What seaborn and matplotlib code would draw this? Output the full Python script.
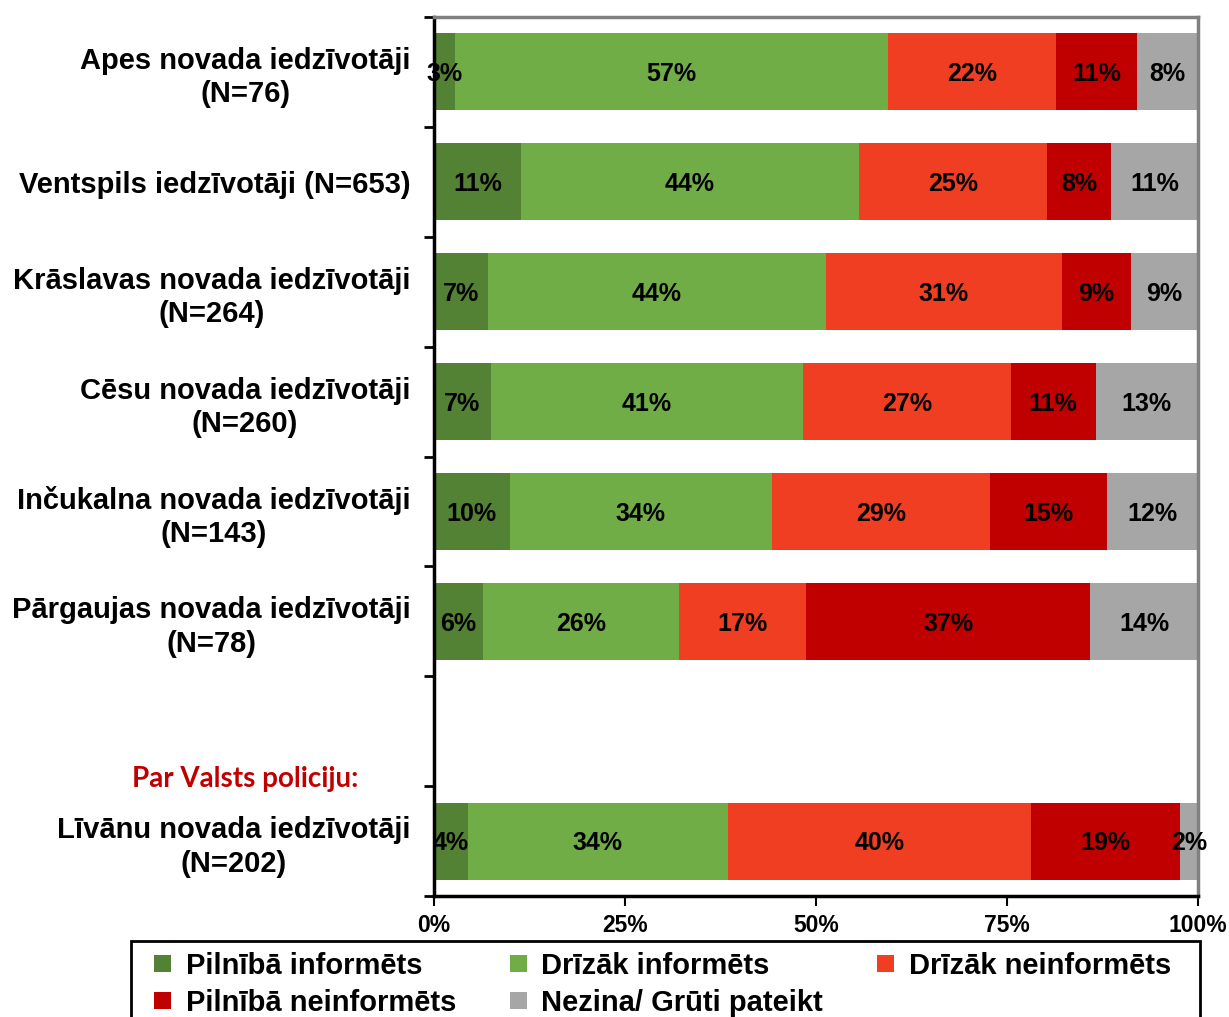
import numpy as np
import pandas as pd
import seaborn as sns
import matplotlib.pyplot as plt
from matplotlib.patches import Patch, Rectangle

LABEL_SIZE = 21
VALUE_SIZE = 18

# rows of the chart, top to bottom (" " is the empty gap row)
groups = [
    "Apes novada iedzīvotāji\n(N=76)",
    "Ventspils iedzīvotāji (N=653)",
    "Krāslavas novada iedzīvotāji\n(N=264)",
    "Cēsu novada iedzīvotāji\n(N=260)",
    "Inčukalna novada iedzīvotāji\n(N=143)",
    "Pārgaujas novada iedzīvotāji\n(N=78)",
    " ",
    "Līvānu novada iedzīvotāji\n(N=202)",
]
data_groups = [g for g in groups if g.strip()]

answers = [
    "Pilnībā informēts",
    "Drīzāk informēts",
    "Drīzāk neinformēts",
    "Pilnībā neinformēts",
    "Nezina/ Grūti pateikt",
]
fully_informed = [2.8, 11.4, 7.1, 7.4, 9.9, 6.4, 4.4]
rather_informed = [56.6, 44.2, 44.2, 40.9, 34.3, 25.7, 34.1]
rather_uninformed = [22.0, 24.6, 30.9, 27.2, 28.6, 16.6, 39.7]
fully_uninformed = [10.6, 8.4, 9.0, 11.1, 15.3, 37.2, 19.4]
dont_know = [8.0, 11.4, 8.8, 13.4, 11.9, 14.1, 2.4]

colors = ["#548235", "#70AD47", "#F03E23", "#C00000", "#A6A6A6"]
x_ticks = [0, 25, 50, 75, 100]
x_labels = ["0%", "25%", "50%", "75%", "100%"]

df = pd.DataFrame({
    "group": data_groups,
    answers[0]: fully_informed,
    answers[1]: rather_informed,
    answers[2]: rather_uninformed,
    answers[3]: fully_uninformed,
    answers[4]: dont_know,
})
cum = df[answers].cumsum(axis=1)
cum["group"] = df["group"]

sns.set_theme(style="white")
plt.rcParams["font.family"] = ["Liberation Sans", "DejaVu Sans"]
plt.rcParams["font.weight"] = "bold"
for key in ["text.color", "axes.labelcolor", "xtick.color", "ytick.color"]:
    plt.rcParams[key] = "black"

fig = plt.figure(figsize=(12.29, 10.17), dpi=100)
ax = fig.add_axes([434 / 1229, 121 / 1017, 764 / 1229, 879 / 1017])

# stacked bars: draw cumulative totals from the widest down
for i in reversed(range(len(answers))):
    sns.barplot(
        data=cum, x=answers[i], y="group", order=groups, orient="h",
        color=colors[i], saturation=1, width=0.7, edgecolor="none",
        linewidth=0, ax=ax,
    )

# value labels
for _, row in df.iterrows():
    y = groups.index(row["group"])
    start = 0
    for a in answers:
        v = row[a]
        ax.text(start + v / 2, y + 0.02, f"{v:.0f}%", ha="center",
                va="center", fontsize=VALUE_SIZE, fontweight="bold",
                color="black")
        start += v

ax.set_xlim(0, 100)
ax.set_ylim(len(groups) - 0.5, -0.5)
ax.set_xticks(x_ticks)
ax.set_xticklabels(x_labels, fontsize=16.5, fontweight="bold")
ax.set_yticks(range(len(groups)))
ax.set_yticklabels([g.strip() for g in groups], fontsize=LABEL_SIZE,
                   fontweight="bold", multialignment="center",
                   linespacing=1.25)
ax.set_yticks(np.arange(-0.5, len(groups), 1), minor=True)
ax.set_xlabel("")
ax.set_ylabel("")
ax.tick_params(axis="y", which="major", length=0, pad=17)
ax.tick_params(axis="y", which="minor", length=7, width=2, direction="out",
               left=True, color="black")
ax.tick_params(axis="x", which="major", length=7, width=1.5, direction="out",
               bottom=True, pad=6, color="black")

for side in ["left", "bottom"]:
    ax.spines[side].set_color("black")
    ax.spines[side].set_linewidth(2.5)
for side in ["top", "right"]:
    ax.spines[side].set_visible(True)
    ax.spines[side].set_color("#808080")
    ax.spines[side].set_linewidth(2.5)

fig.text(245 / 1229, 1 - 779 / 1017, "Par Valsts policiju:", ha="center",
         va="center", fontsize=20, fontweight="bold", color="#C00000",
         family=["Lato", "DejaVu Sans"])

# legend box (runs off the bottom edge like the original)
fig.add_artist(Rectangle((131 / 1229, -0.02), 1069 / 1229,
                         (1017 - 941) / 1017 + 0.02, fill=False,
                         edgecolor="black", linewidth=2,
                         transform=fig.transFigure))

# legend, filled row by row
handles = [Patch(facecolor=c, edgecolor="none") for c in colors]
order = [0, 3, 1, 4, 2]
fig.legend(
    [handles[i] for i in order], [answers[i] for i in order],
    ncol=3, loc="upper left",
    bbox_to_anchor=(154 / 1229, 1 - 952 / 1017),
    prop={"size": LABEL_SIZE, "weight": "bold"},
    frameon=False, handlelength=0.58, handleheight=0.55, handletextpad=0.5,
    borderpad=0, labelspacing=0.3, columnspacing=1.85, borderaxespad=0,
)

fig.savefig("out.png", dpi=100, facecolor="white")
